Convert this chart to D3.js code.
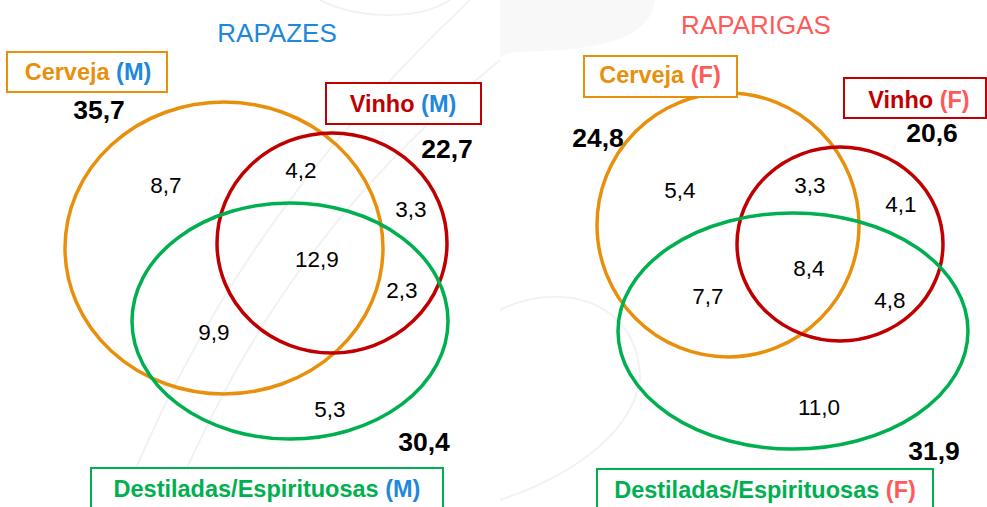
<!DOCTYPE html>
<html>
<head>
<meta charset="utf-8">
<script src="https://cdn.jsdelivr.net/npm/d3@7"></script>
<style>
  html, body { margin: 0; padding: 0; background: #fff; }
  svg { display: block; font-family: "Liberation Sans", Arial, Helvetica, sans-serif; }
</style>
</head>
<body>
<div class="Chart"></div>
<script>
// valores (%)
const panelTitles = ['RAPAZES', 'RAPARIGAS'];
const panelTags = ['M', 'F'];
const setNames = ['Cerveja', 'Vinho', 'Destiladas/Espirituosas'];
const totalsM = [35.7, 22.7, 30.4];
const totalsF = [24.8, 20.6, 31.9];
// regiões: só C, C∩V, só V, C∩V∩D, C∩D, V∩D, só D
const regionKeys = ['C', 'CV', 'V', 'CVD', 'CD', 'VD', 'D'];
const regionsM = [8.7, 4.2, 3.3, 12.9, 9.9, 2.3, 5.3];
const regionsF = [5.4, 3.3, 4.1, 8.4, 7.7, 4.8, 11.0];

const width = 987, height = 507;

const setColor = d3.scaleOrdinal().domain(setNames).range(['#E8900C', '#C00000', '#00B050']);
const tagColor = d3.scaleOrdinal().domain(panelTags).range(['#1E88DC', '#FF5A5A']);
const fmt = d3.formatLocale({ decimal: ',', thousands: '.', grouping: [3], currency: ['', ''] }).format('.1f');

// geometria de cada painel
const layout = [
  {
    title: [277, 42],
    ellipses: [[224, 248, 159, 146], [332, 243, 115, 110], [290, 321, 158, 118]],
    boxes: [[7, 52, 160, 40, 88, 80], [326, 83, 155, 41, 403, 112], [91, 468, 352, 52, 267, 497]],
    totals: [[99, 119], [447, 158], [424, 451]],
    regions: [[166, 193], [301, 178], [411, 217], [317, 267], [214, 340], [402, 298], [330, 417]]
  },
  {
    title: [756, 34],
    ellipses: [[728, 225, 131, 132], [840, 244, 103, 97], [793, 331, 175, 118]],
    boxes: [[584, 56, 153, 41, 660, 83], [844, 78, 142, 40, 919, 108], [597, 469, 336, 52, 765, 498]],
    totals: [[598, 147], [932, 142], [934, 460]],
    regions: [[680, 198], [810, 193], [901, 212], [809, 276], [708, 304], [890, 308], [819, 415]]
  }
];

const panels = panelTitles.map((t, i) => ({
  title: t,
  tag: panelTags[i],
  totals: i === 0 ? totalsM : totalsF,
  regions: i === 0 ? regionsM : regionsF,
  geo: layout[i]
}));

const svg = d3.select('.Chart').append('svg')
  .attr('width', width).attr('height', height)
  .attr('viewBox', `0 0 ${width} ${height}`);

// marca de água (curvas cinzentas ténues)
const bg = svg.append('g').attr('fill', 'none').attr('stroke', '#f2f2f2').attr('stroke-width', 2);
bg.append('path').attr('d', 'M120,507 C190,330 290,170 470,0');
bg.append('path').attr('d', 'M170,507 C240,340 330,200 500,60');
bg.append('path').attr('d', 'M320,0 C360,20 420,20 450,0');
bg.append('path').attr('d', 'M500,310 C560,280 640,300 640,380 C630,440 560,480 500,500');
svg.append('path').attr('d', 'M500,0 L655,0 C650,40 600,50 520,52 C505,53 500,56 500,60 Z')
  .attr('fill', '#f8f8f8');

panels.forEach(p => {
  const g = svg.append('g');

  g.append('text').text(p.title)
    .attr('x', p.geo.title[0]).attr('y', p.geo.title[1])
    .attr('text-anchor', 'middle')
    .style('font-size', '26px')
    .style('fill', tagColor(p.tag));

  g.selectAll('.Ell')
    .data(setNames)
    .enter().append('ellipse')
    .attr('class', 'Ell')
    .attr('cx', (d, i) => p.geo.ellipses[i][0])
    .attr('cy', (d, i) => p.geo.ellipses[i][1])
    .attr('rx', (d, i) => p.geo.ellipses[i][2])
    .attr('ry', (d, i) => p.geo.ellipses[i][3])
    .attr('fill', 'none')
    .attr('stroke', d => setColor(d))
    .attr('stroke-width', 3.5);

  const box = g.selectAll('.Box')
    .data(setNames)
    .enter().append('g')
    .attr('class', 'Box');

  box.append('rect')
    .attr('x', (d, i) => p.geo.boxes[i][0])
    .attr('y', (d, i) => p.geo.boxes[i][1])
    .attr('width', (d, i) => p.geo.boxes[i][2])
    .attr('height', (d, i) => p.geo.boxes[i][3])
    .attr('fill', '#fff')
    .attr('stroke', d => setColor(d))
    .attr('stroke-width', 2);

  const lbl = box.append('text')
    .attr('x', (d, i) => p.geo.boxes[i][4])
    .attr('y', (d, i) => p.geo.boxes[i][5])
    .attr('text-anchor', 'middle')
    .style('font-size', '23.5px')
    .style('font-weight', 'bold');
  lbl.append('tspan').text(d => d + ' ').style('fill', d => setColor(d));
  lbl.append('tspan').text(`(${p.tag})`).style('fill', tagColor(p.tag));

  g.selectAll('.Total')
    .data(p.totals)
    .enter().append('text')
    .attr('class', 'Total')
    .attr('x', (d, i) => p.geo.totals[i][0])
    .attr('y', (d, i) => p.geo.totals[i][1])
    .attr('text-anchor', 'middle')
    .style('font-size', '26.5px')
    .style('font-weight', 'bold')
    .style('fill', '#000')
    .text(d => fmt(d));

  g.selectAll('.Reg')
    .data(p.regions)
    .enter().append('text')
    .attr('class', 'Reg')
    .attr('x', (d, i) => p.geo.regions[i][0])
    .attr('y', (d, i) => p.geo.regions[i][1])
    .attr('text-anchor', 'middle')
    .style('font-size', '22.5px')
    .style('fill', '#000')
    .text(d => fmt(d));
});
</script>
</body>
</html>
